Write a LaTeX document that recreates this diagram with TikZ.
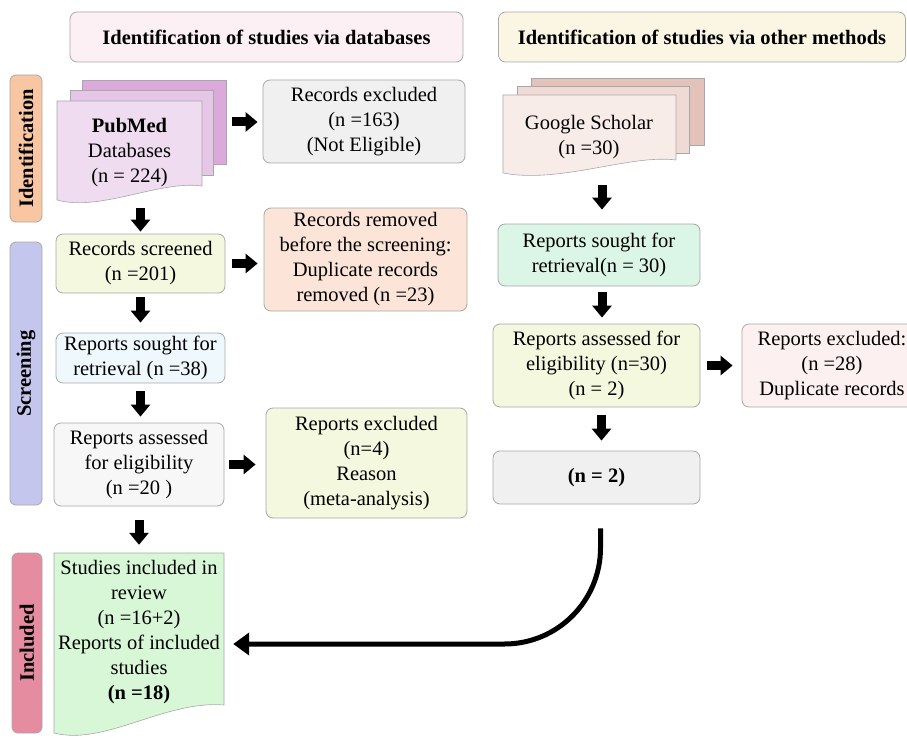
\documentclass[tikz,border=0pt]{standalone}
\usepackage{fontspec}
\setmainfont{Liberation Serif}
\usetikzlibrary{arrows.meta}
\definecolor{boxline}{HTML}{A8A8A8}
\definecolor{headA}{HTML}{FDF0F5}
\definecolor{headB}{HTML}{FBF5E3}
\definecolor{idfill}{HTML}{F8C6A2}
\definecolor{scrfill}{HTML}{C4C6EE}
\definecolor{incfill}{HTML}{E58CA0}
\definecolor{pubA}{HTML}{F0DCF0}
\definecolor{pubB}{HTML}{E6C6E6}
\definecolor{pubC}{HTML}{DBAADB}
\definecolor{gsA}{HTML}{F8ECE8}
\definecolor{gsB}{HTML}{F0DAD5}
\definecolor{gsC}{HTML}{E3C2BA}
\definecolor{greyfill}{HTML}{F0F0F0}
\definecolor{limefill}{HTML}{F3F8DF}
\definecolor{peachfill}{HTML}{FCE5D8}
\definecolor{bluefill}{HTML}{EEF8FD}
\definecolor{whitefill}{HTML}{F7F7F7}
\definecolor{mintfill}{HTML}{DBF5E6}
\definecolor{rosefill}{HTML}{FDF0F0}
\definecolor{greenfill}{HTML}{D7F7D7}
\tikzset{
  every node/.style={font=\fontsize{20.5}{25}\selectfont},
  flowbox/.style={draw=boxline, line width=0.8pt, rounded corners=7pt, align=center, inner sep=0pt},
  sheet/.style={draw=boxline, line width=0.6pt},
  phase/.style={flowbox, rounded corners=6pt, font=\fontsize{20.5}{25}\selectfont\bfseries},
  blockarrow/.style={line width=9pt, -{Triangle[length=12pt,width=19pt]}},
  bigarrow/.style={line width=5pt, -{Triangle[length=16pt,width=22pt]}}
}
\newcommand{\flow}{\node[flowbox]}

\begin{document}
\begin{tikzpicture}[x=1pt,y=-1pt]
\useasboundingbox (0,0) rectangle (907,738);
\clip (0,0) rectangle (907,738);
%headers
\flow[fill=headA, minimum width=393pt, minimum height=50pt, font=\fontsize{20.5}{25}\selectfont\bfseries] (hdb) at (266.5,37) {Identification of studies via databases};
\flow[fill=headB, minimum width=407pt, minimum height=50pt, font=\fontsize{20.5}{25}\selectfont\bfseries] (hother) at (702,37) {Identification of studies via other methods};
%phases
\node[phase, fill=idfill, minimum width=147pt, minimum height=32pt, rotate=90] (idphase) at (26,148.5) {Identification};
\node[phase, fill=scrfill, minimum width=263pt, minimum height=32pt, rotate=90] (scrphase) at (26,373.5) {Screening};
\node[phase, fill=incfill, minimum width=180pt, minimum height=30pt, rotate=90] (incphase) at (27,643) {Included};
%database stack
\node[sheet, fill=pubC, minimum width=144pt, minimum height=84pt] (pmback) at (154,122) {};
\node[sheet, fill=pubB, minimum width=143pt, minimum height=85pt] (pmmid) at (141.5,132.5) {};
\draw[sheet, fill=pubA] (57,101) -- (202,101) -- (202,186) .. controls (160,180) and (100,212) .. (57,200) -- cycle;
\node[align=center, inner sep=0pt, minimum width=145pt, minimum height=104pt] (pubmed) at (129.5,153) {\textbf{PubMed}\\Databases\\(n = 224)};
%other stack
\node[sheet, fill=gsC, minimum width=173pt, minimum height=67pt] (gsback) at (617.5,111.5) {};
\node[sheet, fill=gsB, minimum width=172pt, minimum height=67pt] (gsmid) at (603,119.5) {};
\draw[sheet, fill=gsA] (503,95) -- (676,95) -- (676,160) .. controls (630,154) and (560,184) .. (503,173) -- cycle;
\node[align=center, inner sep=0pt, minimum width=173pt, minimum height=84pt] (scholar) at (589,137) {Google Scholar\\(n =30)};
%left column
\flow[fill=greyfill, minimum width=202pt, minimum height=83pt] (excl) at (364,121.5) {Records excluded\\(n =163)\\(Not Eligible)};
\flow[fill=limefill, minimum width=169pt, minimum height=59pt] (screened) at (140.5,263.5) {Records screened\\(n =201)};
\flow[fill=peachfill, minimum width=203pt, minimum height=103pt] (removed) at (365.5,259.5) {Records removed\\before the screening:\\Duplicate records\\removed (n =23)};
\flow[fill=bluefill, minimum width=169pt, minimum height=50pt] (soughtL) at (140.5,358) {Reports sought for\\retrieval (n =38)};
\flow[fill=whitefill, minimum width=170pt, minimum height=83pt] (assessedL) at (139,464.5) {Reports assessed\\for eligibility\\(n =20 )};
\flow[fill=limefill, minimum width=201pt, minimum height=110pt] (exclL) at (366.5,463) {Reports excluded\\(n=4)\\Reason\\(meta-analysis)};
%included
\draw[sheet, fill=greenfill] (54,553) -- (224,553) -- (224,705) .. controls (165,700) and (105,746) .. (54,733) -- cycle;
\node[align=center, inner sep=0pt, minimum width=170pt, minimum height=158pt] (studies) at (139,632) {Studies included in\\review\\(n =16+2)\\Reports of included\\studies\\\textbf{(n =18)}};
%right column
\flow[fill=mintfill, minimum width=202pt, minimum height=62pt] (soughtR) at (599,255) {Reports sought for\\retrieval(n = 30)};
\flow[fill=limefill, minimum width=207pt, minimum height=83pt] (assessedR) at (596.5,365.5) {Reports assessed for\\eligibility (n=30)\\(n = 2)};
\flow[fill=rosefill, minimum width=180pt, minimum height=83pt] (exclR) at (832,365.5) {Reports excluded:\\(n =28)\\Duplicate records};
\flow[fill=greyfill, minimum width=207pt, minimum height=53pt] (ntwo) at (596.5,477.5) {\textbf{(n = 2)}};
%arrows
\draw[blockarrow, shorten <=6pt, shorten >=5pt] (pmback.east) -- (pmback.east -| excl.west);
\draw[blockarrow, shorten <=7pt, shorten >=6pt] (screened.east) -- (screened.east -| removed.west);
\draw[blockarrow, shorten <=5pt, shorten >=10pt] (assessedL.east) -- (assessedL.east -| exclL.west);
\draw[blockarrow, shorten <=7pt, shorten >=9pt] (assessedR.east) -- (assessedR.east -| exclR.west);
\draw[blockarrow, shorten <=3pt, shorten >=2pt] (pubmed.south -| screened.north) -- (screened.north);
\draw[blockarrow, shorten <=4pt, shorten >=10pt] (screened.south) -- (screened.south |- soughtL.north);
\draw[blockarrow, shorten <=8pt, shorten >=6pt] (soughtL.south) -- (soughtL.south |- assessedL.north);
\draw[blockarrow, shorten <=14pt, shorten >=8pt] (assessedL.south) -- (assessedL.south |- studies.north);
\draw[blockarrow, shorten <=6pt, shorten >=14pt] ([xshift=3pt]scholar.south -| soughtR.north) -- ([xshift=3pt]soughtR.north);
\draw[blockarrow, shorten <=6pt, shorten >=6pt] ([xshift=3pt]soughtR.south) -- ([xshift=3pt]soughtR.south |- assessedR.north);
\draw[blockarrow, shorten <=8pt, shorten >=10pt] ([xshift=5pt]assessedR.south) -- ([xshift=5pt]ntwo.north);
\draw[bigarrow, rounded corners=96pt, shorten <=24pt, shorten >=9pt] ([xshift=4pt]ntwo.south) |- ([yshift=-12pt]studies.east);
\end{tikzpicture}
\end{document}
